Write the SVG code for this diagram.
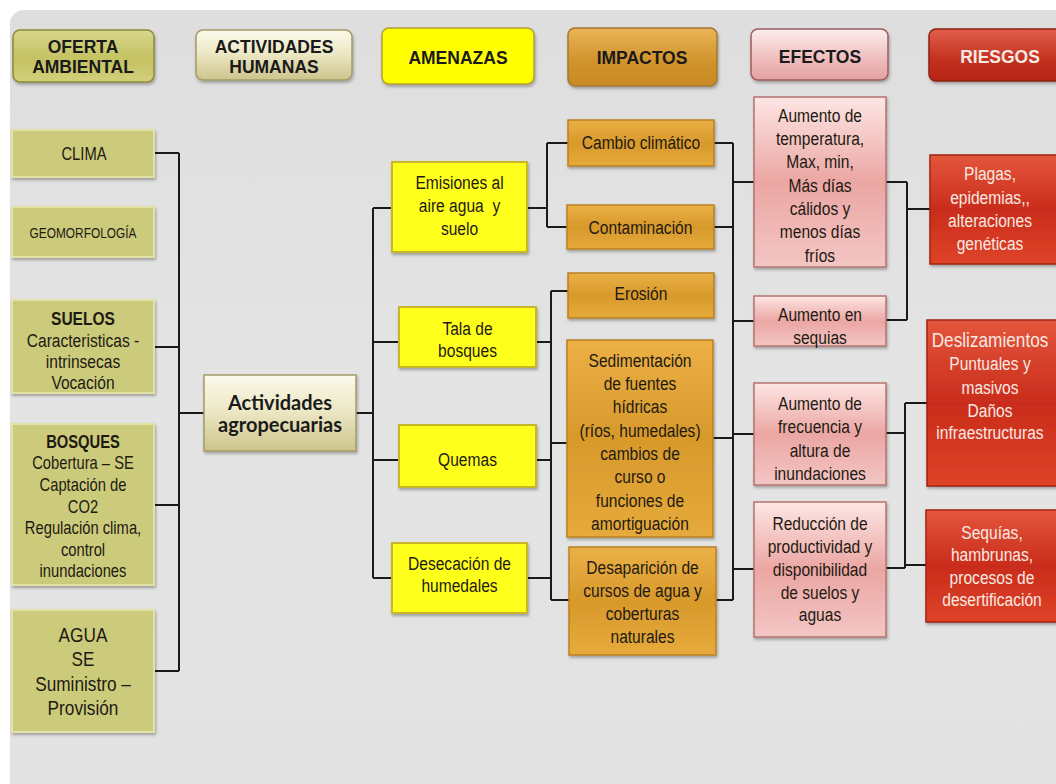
<svg xmlns="http://www.w3.org/2000/svg" width="1056" height="784" viewBox="0 0 1056 784">
<defs>
<linearGradient id="bg" x1="0" y1="0" x2="0" y2="1"><stop offset="0" stop-color="#dedede"/><stop offset="0.5" stop-color="#e4e4e4"/><stop offset="1" stop-color="#e2e2e2"/></linearGradient>
<linearGradient id="gOliveH" x1="0" y1="0" x2="0" y2="1"><stop offset="0" stop-color="#d8d68c"/><stop offset="0.55" stop-color="#c4c262"/><stop offset="1" stop-color="#d2d07a"/></linearGradient>
<linearGradient id="gCream" x1="0" y1="0" x2="0" y2="1"><stop offset="0" stop-color="#fbfaec"/><stop offset="0.5" stop-color="#ebe6c2"/><stop offset="1" stop-color="#cdc38c"/></linearGradient>
<linearGradient id="gOrange" x1="0" y1="0" x2="0" y2="1"><stop offset="0" stop-color="#ebb046"/><stop offset="0.5" stop-color="#d8992b"/><stop offset="1" stop-color="#e6aa3c"/></linearGradient>
<linearGradient id="gOrangeH" x1="0" y1="0" x2="0" y2="1"><stop offset="0" stop-color="#e9b457"/><stop offset="0.6" stop-color="#d0922a"/><stop offset="1" stop-color="#c98a26"/></linearGradient>
<linearGradient id="gPink" x1="0" y1="0" x2="0" y2="1"><stop offset="0" stop-color="#fde6e4"/><stop offset="0.5" stop-color="#eba6a3"/><stop offset="1" stop-color="#f3c6c4"/></linearGradient>
<linearGradient id="gPinkH" x1="0" y1="0" x2="0" y2="1"><stop offset="0" stop-color="#fdeeee"/><stop offset="0.6" stop-color="#efbcbc"/><stop offset="1" stop-color="#e4a0a0"/></linearGradient>
<linearGradient id="gRed" x1="0" y1="0" x2="0" y2="1"><stop offset="0" stop-color="#e4563c"/><stop offset="0.5" stop-color="#c92c1b"/><stop offset="1" stop-color="#df4428"/></linearGradient>
<linearGradient id="gRedH" x1="0" y1="0" x2="0" y2="1"><stop offset="0" stop-color="#e2604c"/><stop offset="0.6" stop-color="#c2301e"/><stop offset="1" stop-color="#b52616"/></linearGradient>
<filter id="sh" x="-10%" y="-10%" width="125%" height="130%"><feDropShadow dx="1" dy="2" stdDeviation="1.5" flood-color="#000" flood-opacity="0.3"/></filter>
<style>
.olive{fill:#cccb7c;stroke:#e2e1a6;stroke-width:2;filter:url(#sh)}
.oliveH{fill:url(#gOliveH);stroke:#8c8a3a;stroke-width:1.5;filter:url(#sh)}
.cream{fill:url(#gCream);stroke:#a39b6a;stroke-width:1.5;filter:url(#sh)}
.yellow{fill:#ffff1c;stroke:#c9b52a;stroke-width:2;filter:url(#sh)}
.yellowH{fill:#ffff00;stroke:#b3a032;stroke-width:1.5;filter:url(#sh)}
.orange{fill:url(#gOrange);stroke:#b98120;stroke-width:1.5;filter:url(#sh)}
.orangeH{fill:url(#gOrangeH);stroke:#a47830;stroke-width:1.5;filter:url(#sh)}
.pink{fill:url(#gPink);stroke:#b57370;stroke-width:1.5;filter:url(#sh)}
.pinkH{fill:url(#gPinkH);stroke:#9c5c5c;stroke-width:1.5;filter:url(#sh)}
.red{fill:url(#gRed);stroke:#a02414;stroke-width:1.5;filter:url(#sh)}
.redH{fill:url(#gRedH);stroke:#8c2010;stroke-width:1.5;filter:url(#sh)}
text{font-family:"Liberation Sans",Arial,sans-serif;font-size:19px;fill:#1e1a12;text-anchor:middle}
.h{font-weight:bold;font-size:17.5px;fill:#1a1a1a}
.b{font-weight:bold}
.s18{font-size:18px}
.w{fill:#f8e9e2}
.ag{font-family:Lato,"DejaVu Sans",sans-serif;font-weight:bold;font-size:20px;fill:#1a1a1a}
.con{fill:none;stroke:#1a1a1a;stroke-width:2}
</style>
</defs>
<rect x="0" y="0" width="1056" height="784" fill="#ffffff"/>
<rect x="10" y="10" width="1070" height="800" rx="14" fill="url(#bg)"/>

<g id="connectors" class="con">
<path d="M154 153H179M154 347H179M154 505H179M154 671H179M179 153V671M179 413H204"/>
<path d="M356 413H373M373 208V578M373 208H392M373 342H399M373 460H399M373 578H392"/>
<path d="M527 208H547M547 143V227M547 143H568M547 227H567"/>
<path d="M536 342H551M536 460H551M527 578H551M551 291V600M551 291H568M551 443H567M551 600H569"/>
<path d="M714 143H733M714 227H733M713 438H733M716 600H733M733 143V600M733 182H754M733 321H754M733 434H754M733 569H754"/>
<path d="M886 182H907M886 320H907M907 182V320M907 209H930"/>
<path d="M886 433H905M886 568H905M905 403V568M905 403H927M905 565H926"/>
</g>

<g id="h-oferta"><rect class="oliveH" x="13" y="30" width="141" height="52" rx="7"/><text class="h" x="83" y="53">OFERTA</text><text class="h" x="83" y="73">AMBIENTAL</text></g>
<g id="h-actividades"><rect class="cream" x="196" y="30" width="156" height="50" rx="7"/><text class="h" x="274" y="53">ACTIVIDADES</text><text class="h" x="274" y="73">HUMANAS</text></g>
<g id="h-amenazas"><rect class="yellowH" x="382" y="28" width="152" height="56" rx="7"/><text class="h" x="458" y="64">AMENAZAS</text></g>
<g id="h-impactos"><rect class="orangeH" x="568" y="28" width="149" height="58" rx="7"/><text class="h" x="642" y="64">IMPACTOS</text></g>
<g id="h-efectos"><rect class="pinkH" x="751" y="29" width="137" height="51" rx="7"/><text class="h" x="820" y="63">EFECTOS</text></g>
<g id="h-riesgos"><rect class="redH" x="929" y="29" width="140" height="52" rx="7"/><text class="h w" x="1000" y="63">RIESGOS</text></g>

<g id="clima"><rect class="olive" x="12" y="130" width="142" height="47"/><g transform="translate(84 0) scale(0.82 1)"><text class="s18" x="0" y="160">CLIMA</text></g></g>
<g id="geomorfologia"><rect class="olive" x="12" y="207" width="142" height="50"/><g transform="translate(83 0) scale(0.82 1)"><text x="0" y="238" style="font-size:14.5px">GEOMORFOLOGÍA</text></g></g>
<g id="suelos"><rect class="olive" x="12" y="300" width="142" height="93"/><g transform="translate(83 0) scale(0.82 1)">
<text class="b" x="0" y="325">SUELOS</text><text x="0" y="347">Caracteristicas -</text><text x="0" y="368">intrinsecas</text><text x="0" y="389">Vocación</text></g></g>
<g id="bosques"><rect class="olive" x="12" y="424" width="142" height="161"/><g transform="translate(83 0) scale(0.82 1)">
<text class="s18 b" x="0" y="448.5">BOSQUES</text><text class="s18" x="0" y="469.5">Cobertura – SE</text><text class="s18" x="0" y="491.5">Captación de</text><text class="s18" x="0" y="513">CO2</text><text class="s18" x="0" y="534.5">Regulación clima,</text><text class="s18" x="0" y="556">control</text><text class="s18" x="0" y="577.5">inundaciones</text></g></g>
<g id="agua"><rect class="olive" x="12" y="610" width="142" height="122"/><g transform="translate(83 0) scale(0.82 1)">
<text x="0" y="642.5" style="font-size:21px">AGUA</text><text x="0" y="666.5" style="font-size:21px">SE</text><text x="0" y="691.5" style="font-size:21px">Suministro –</text><text x="0" y="715.5" style="font-size:21px">Provisión</text></g></g>

<g id="agropecuarias"><rect class="cream" x="204" y="375" width="152" height="76"/><text class="ag" x="280" y="410">Actividades</text><text class="ag" x="280" y="432">agropecuarias</text></g>

<g id="emisiones"><rect class="yellow" x="392" y="162" width="135" height="90"/><g transform="translate(459.5 0) scale(0.82 1)"><text x="0" y="189">Emisiones al</text><text x="0" y="212">aire agua&#160; y</text><text x="0" y="235">suelo</text></g></g>
<g id="tala"><rect class="yellow" x="399" y="307" width="137" height="60"/><g transform="translate(467.5 0) scale(0.82 1)"><text x="0" y="335">Tala de</text><text x="0" y="357">bosques</text></g></g>
<g id="quemas"><rect class="yellow" x="399" y="425" width="137" height="62"/><g transform="translate(467.5 0) scale(0.82 1)"><text x="0" y="466">Quemas</text></g></g>
<g id="desecacion"><rect class="yellow" x="392" y="543" width="135" height="70"/><g transform="translate(459.5 0) scale(0.82 1)"><text x="0" y="570">Desecación de</text><text x="0" y="592">humedales</text></g></g>

<g id="cambio"><rect class="orange" x="568" y="120" width="146" height="46"/><g transform="translate(641 0) scale(0.82 1)"><text x="0" y="149">Cambio climático</text></g></g>
<g id="contaminacion"><rect class="orange" x="567" y="205" width="147" height="44"/><g transform="translate(640.5 0) scale(0.82 1)"><text x="0" y="234">Contaminación</text></g></g>
<g id="erosion"><rect class="orange" x="568" y="273" width="146" height="45"/><g transform="translate(641 0) scale(0.82 1)"><text x="0" y="300">Erosión</text></g></g>
<g id="sedimentacion"><rect class="orange" x="567" y="340" width="146" height="197"/><g transform="translate(640 0) scale(0.82 1)">
<text x="0" y="367">Sedimentación</text><text x="0" y="390">de fuentes</text><text x="0" y="413.5">hídricas</text><text x="0" y="437">(ríos, humedales)</text><text x="0" y="460">cambios de</text><text x="0" y="483.5">curso o</text><text x="0" y="507">funciones de</text><text x="0" y="530">amortiguación</text></g></g>
<g id="desaparicion"><rect class="orange" x="569" y="547" width="147" height="108"/><g transform="translate(642.5 0) scale(0.82 1)">
<text x="0" y="574">Desaparición de</text><text x="0" y="597">cursos de agua y</text><text x="0" y="620">coberturas</text><text x="0" y="643">naturales</text></g></g>

<g id="temperatura"><rect class="pink" x="754" y="97" width="132" height="170"/><g transform="translate(820 0) scale(0.82 1)">
<text x="0" y="122">Aumento de</text><text x="0" y="145">temperatura,</text><text x="0" y="168.5">Max, min,</text><text x="0" y="192">Más días</text><text x="0" y="215">cálidos y</text><text x="0" y="238.5">menos días</text><text x="0" y="262">fríos</text></g></g>
<g id="sequias-ef"><rect class="pink" x="754" y="296" width="132" height="50"/><g transform="translate(820 0) scale(0.82 1)"><text x="0" y="321">Aumento en</text><text x="0" y="344">sequias</text></g></g>
<g id="inundaciones"><rect class="pink" x="754" y="383" width="132" height="102"/><g transform="translate(820 0) scale(0.82 1)">
<text x="0" y="410">Aumento de</text><text x="0" y="433.5">frecuencia y</text><text x="0" y="457">altura de</text><text x="0" y="480">inundaciones</text></g></g>
<g id="reduccion"><rect class="pink" x="754" y="502" width="132" height="135"/><g transform="translate(820 0) scale(0.82 1)">
<text x="0" y="530">Reducción de</text><text x="0" y="553.5">productividad y</text><text x="0" y="576">disponibilidad</text><text x="0" y="599">de suelos y</text><text x="0" y="621">aguas</text></g></g>

<g id="plagas"><rect class="red" x="930" y="155" width="140" height="109"/><g transform="translate(990 0) scale(0.82 1)">
<text class="w" x="0" y="180">Plagas,</text><text class="w" x="0" y="204">epidemias,,</text><text class="w" x="0" y="227">alteraciones</text><text class="w" x="0" y="250">genéticas</text></g></g>
<g id="deslizamientos"><rect class="red" x="927" y="320" width="140" height="166"/><g transform="translate(990 0) scale(0.82 1)">
<text class="w" x="0" y="347" style="font-size:21px">Deslizamientos</text><text class="w" x="0" y="370">Puntuales y</text><text class="w" x="0" y="394">masivos</text><text class="w" x="0" y="417">Daños</text><text class="w" x="0" y="439">infraestructuras</text></g></g>
<g id="sequias-r"><rect class="red" x="926" y="510" width="140" height="112"/><g transform="translate(992 0) scale(0.82 1)">
<text class="w" x="0" y="539">Sequías,</text><text class="w" x="0" y="561">hambrunas,</text><text class="w" x="0" y="584">procesos de</text><text class="w" x="0" y="606">desertificación</text></g></g>
</svg>
